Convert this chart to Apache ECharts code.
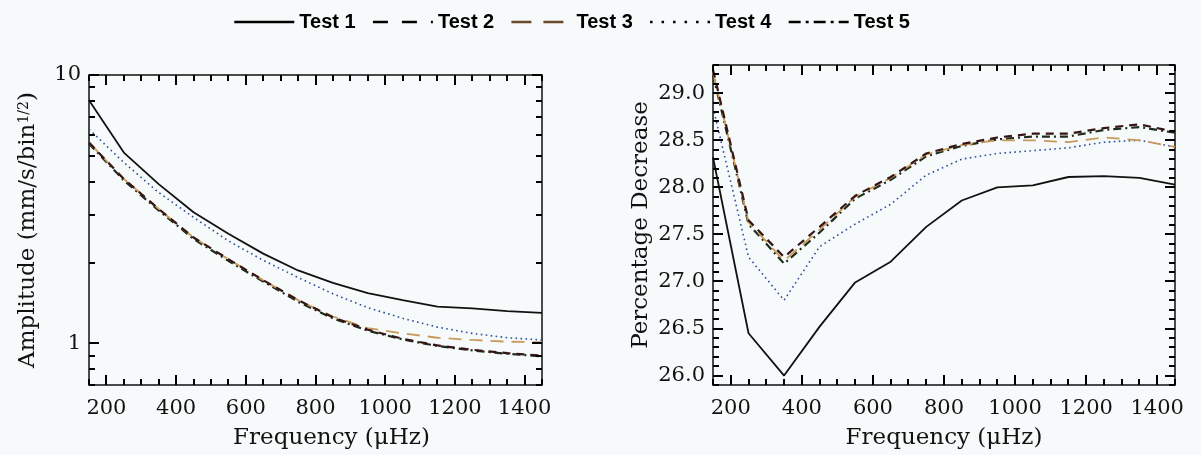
<!DOCTYPE html>
<html>
<head>
<meta charset="utf-8">
<script src="https://cdn.jsdelivr.net/npm/echarts@6/dist/echarts.min.js"></script>
<style>
html,body{margin:0;padding:0;background:#f7fafa;}
#c{width:1201px;height:455px;}
</style>
</head>
<body>
<div id="c"></div>
<script>
// ---- data ----
var freqs = [150, 250, 350, 450, 550, 650, 750, 850, 950, 1050, 1150, 1250, 1350, 1450];
var seriesNames = ['Test 1', 'Test 2', 'Test 3', 'Test 4', 'Test 5'];

// Left panel: amplitude (mm/s/bin^1/2), log scale
var ampTest1 = [8.05, 5.14, 3.92, 3.08, 2.56, 2.16, 1.87, 1.68, 1.54, 1.45, 1.37, 1.35, 1.32, 1.30];
var ampTest2 = [5.60, 4.10, 3.17, 2.48, 2.06, 1.72, 1.45, 1.25, 1.125, 1.04, 0.983, 0.947, 0.92, 0.90];
var ampTest3 = [5.60, 4.10, 3.17, 2.48, 2.06, 1.72, 1.45, 1.26, 1.14, 1.09, 1.05, 1.03, 1.015, 1.01];
var ampTest4 = [6.28, 4.72, 3.65, 2.95, 2.41, 2.04, 1.76, 1.53, 1.36, 1.24, 1.15, 1.09, 1.05, 1.03];
var ampTest5 = [5.55, 4.05, 3.13, 2.45, 2.03, 1.70, 1.43, 1.24, 1.115, 1.035, 0.978, 0.942, 0.915, 0.895];

// Right panel: percentage decrease
var pctTest1 = [28.32, 26.45, 26.00, 26.52, 26.99, 27.21, 27.58, 27.86, 28.00, 28.02, 28.11, 28.12, 28.10, 28.03];
var pctTest2 = [29.25, 27.65, 27.26, 27.58, 27.91, 28.11, 28.36, 28.46, 28.53, 28.57, 28.57, 28.63, 28.67, 28.59];
var pctTest3 = [29.22, 27.63, 27.22, 27.55, 27.90, 28.10, 28.35, 28.45, 28.50, 28.50, 28.48, 28.53, 28.50, 28.43];
var pctTest4 = [28.85, 27.26, 26.80, 27.37, 27.61, 27.82, 28.13, 28.30, 28.36, 28.39, 28.42, 28.48, 28.50, 28.43];
var pctTest5 = [29.20, 27.61, 27.19, 27.52, 27.88, 28.08, 28.33, 28.44, 28.51, 28.54, 28.54, 28.61, 28.64, 28.58];

// tick labels / tick values
var xTickLabels = [200, 400, 600, 800, 1000, 1200, 1400];
var ampTickLabels = [1, 10];
var ampMinorTicks = [0.7, 0.8, 0.9, 2, 3, 4, 5, 6, 7, 8, 9];
var pctTickLabels = [26.0, 26.5, 27.0, 27.5, 28.0, 28.5, 29.0];

// ---- build ----
var X_MIN = 150, X_MAX = 1450;
var AMP_MIN = 0.7, AMP_MAX = 10, PCT_MIN = 25.9, PCT_MAX = 29.3;
var xMinor = [];
for (var f = X_MIN; f <= X_MAX; f += 50) if (xTickLabels.indexOf(f) < 0) xMinor.push(f);
var pctMinor = [];
for (var k = 259; k <= 293; k++) if (k % 5 !== 0) pctMinor.push(k / 10);

var FONT = 'DejaVu Serif';
var ink = '#111';

function xAxis(g, namePad) {
  return {
    type: 'value', min: X_MIN, max: X_MAX, gridIndex: g, position: 'bottom',
    splitLine: {show: false}, axisLine: {show: false}, axisTick: {show: false},
    axisLabel: {show: true, customValues: xTickLabels, fontFamily: FONT, fontSize: 21, color: ink, margin: 13,
      formatter: function (v) { return String(v); }},
    name: 'Frequency (\u03bcHz)', nameLocation: 'middle', nameGap: 42,
    nameTextStyle: {fontFamily: FONT, fontSize: 23, color: ink, padding: namePad}
  };
}

var styles = [
  {color: '#111111', width: 1.8, type: 'solid'},
  {color: '#361515', width: 2.2, type: [8, 6]},
  {color: '#c99a5c', width: 1.8, type: [13, 8]},
  {color: '#2f4f9e', width: 1.6, type: [1.6, 3.4]},
  {color: '#1c2c1c', width: 2.2, type: [8, 4, 2, 4]}
];
var legendLines = [
  {color: '#000', width: 2.6, type: 'solid'},
  {color: '#000', width: 2.6, type: [15, 14]},
  {color: '#6b4a2c', width: 2.4, type: [20, 12]},
  {color: '#000', width: 2.6, type: [2.5, 9]},
  {color: '#000', width: 2.6, type: [12, 5, 3, 5]}
];

function pairs(vals) { return freqs.map(function (f, i) { return [f, vals[i]]; }); }

var leftData = [ampTest1, ampTest2, ampTest3, ampTest4, ampTest5];
var rightData = [pctTest1, pctTest2, pctTest3, pctTest4, pctTest5];

var series = [];
[leftData, rightData].forEach(function (set, g) {
  set.forEach(function (vals, i) {
    series.push({
      name: seriesNames[i], type: 'line', xAxisIndex: g, yAxisIndex: g,
      data: pairs(vals), symbol: 'none', showSymbol: false, silent: true, animation: false,
      lineStyle: {color: styles[i].color, width: styles[i].width, type: styles[i].type},
      itemStyle: {color: styles[i].color}, z: 10 - i
    });
  });
});

var option = {
  backgroundColor: '#f7fafa',
  animation: false,
  legend: {
    top: 7, left: 228, itemWidth: 60, itemHeight: 14, itemGap: 16,
    textStyle: {fontFamily: 'Liberation Sans', fontWeight: 'bold', fontSize: 20, color: '#000'},
    data: seriesNames.map(function (n, i) {
      return {name: n, lineStyle: legendLines[i], itemStyle: {opacity: 0, borderWidth: 0}};
    })
  },
  grid: [
    {left: 89, top: 75, width: 453, height: 310, show: true, borderColor: ink, borderWidth: 1.5, backgroundColor: 'transparent'},
    {left: 713, top: 65, width: 462, height: 320, show: true, borderColor: ink, borderWidth: 1.5, backgroundColor: 'transparent'}
  ],
  xAxis: [xAxis(0, [0, 0, 0, 32]), xAxis(1, [0, 0, 0, 0])],
  yAxis: [
    {
      type: 'log', logBase: 10, min: AMP_MIN, max: AMP_MAX, gridIndex: 0, position: 'left',
      splitLine: {show: false}, axisLine: {show: false}, axisTick: {show: false},
      axisLabel: {show: true, customValues: ampTickLabels, fontFamily: FONT, fontSize: 21, color: ink, margin: 8,
        formatter: function (v) { return String(Math.round(v)); }},
      name: '{b|Amplitude (mm/s/bin}{s|1/2}{b|)}', nameLocation: 'middle', nameGap: 49,
      nameTextStyle: {fontFamily: FONT, fontSize: 23, color: ink,
        rich: {b: {fontFamily: FONT, fontSize: 23, color: ink, verticalAlign: 'bottom'},
               s: {fontFamily: FONT, fontSize: 14, color: ink, verticalAlign: 'top'}}}
    },
    {
      type: 'value', min: PCT_MIN, max: PCT_MAX, gridIndex: 1, position: 'left',
      splitLine: {show: false}, axisLine: {show: false}, axisTick: {show: false},
      axisLabel: {show: true, customValues: pctTickLabels, fontFamily: FONT, fontSize: 21, color: ink, margin: 8,
        formatter: function (v) { return v.toFixed(1); }},
      name: 'Percentage Decrease', nameLocation: 'middle', nameGap: 60,
      nameTextStyle: {fontFamily: FONT, fontSize: 23, color: ink}
    }
  ],
  series: series
};

var chart = echarts.init(document.getElementById('c'), null, {renderer: 'canvas'});
chart.setOption(option);

// ---- inward tick marks on all four sides, positioned through the axes' scales ----
var tickEls = [];
function addTick(x, y, w, h) {
  tickEls.push({type: 'rect', silent: true, z: 100,
    shape: {x: Math.round(x), y: Math.round(y), width: Math.round(w), height: Math.round(h)},
    style: {fill: '#000', stroke: null}});
}
function gridTicks(g, yMin, yMax, yMajors, yMinors) {
  var fin = {xAxisIndex: g, yAxisIndex: g};
  function xt(v, len) {
    var b = chart.convertToPixel(fin, [v, yMin]);
    var t = chart.convertToPixel(fin, [v, yMax]);
    addTick(b[0] - 1, b[1] - len, 2, len);
    addTick(t[0] - 1, t[1], 2, len);
  }
  function yt(v, len) {
    var l = chart.convertToPixel(fin, [X_MIN, v]);
    var r = chart.convertToPixel(fin, [X_MAX, v]);
    addTick(l[0], l[1] - 1, len, 2);
    addTick(r[0] - len, r[1] - 1, len, 2);
  }
  xTickLabels.forEach(function (v) { xt(v, 10); });
  xMinor.forEach(function (v) { xt(v, 6); });
  yMajors.forEach(function (v) { yt(v, 10); });
  yMinors.forEach(function (v) { yt(v, 6); });
}
gridTicks(0, AMP_MIN, AMP_MAX, ampTickLabels, ampMinorTicks);
gridTicks(1, PCT_MIN, PCT_MAX, pctTickLabels, pctMinor);
chart.setOption({graphic: {elements: tickEls}});
</script>
</body>
</html>
